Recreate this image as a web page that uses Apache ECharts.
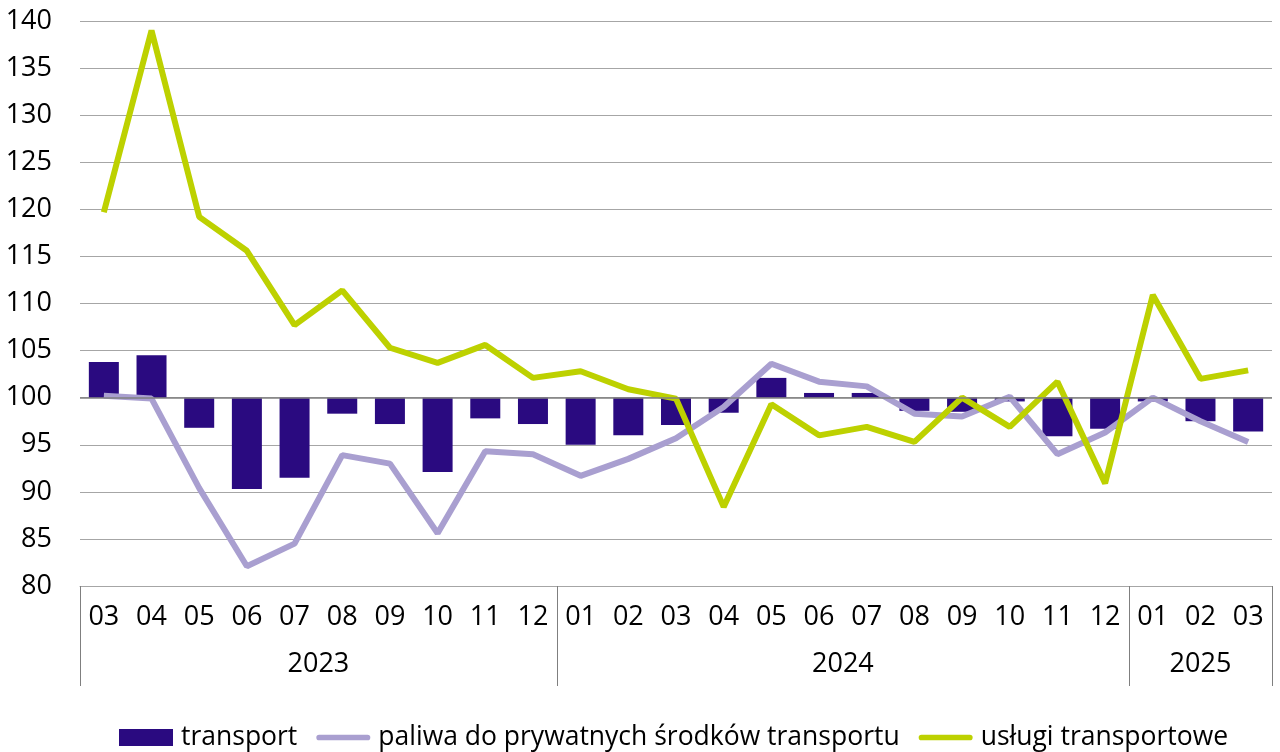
<!DOCTYPE html>
<html><head><meta charset="utf-8">
<script src="https://cdn.jsdelivr.net/npm/echarts@6/dist/echarts.min.js"></script>
<style>html,body{margin:0;padding:0;background:#fff}#c{width:1280px;height:752px}</style>
</head><body><div id="c"></div>
<script>
const months = ['03','04','05','06','07','08','09','10','11','12','01','02','03','04','05','06','07','08','09','10','11','12','01','02','03'];
const yearLabels = ['2023','2024','2025'];
const yearSpans = [10,12,3];
const transport = [103.8,104.5,96.8,90.3,91.5,98.3,97.2,92.1,97.8,97.2,95.0,96.0,97.1,98.4,102.1,100.5,100.5,98.6,98.5,99.6,95.9,96.7,99.6,97.5,96.4];
const paliwa = [100.2,99.9,90.4,82.1,84.5,93.9,93.0,85.6,94.3,94.0,91.7,93.5,95.7,99.0,103.6,101.7,101.2,98.3,98.0,100.1,94.0,96.3,100.0,97.5,95.3];
const uslugi = [119.7,139.0,119.2,115.6,107.7,111.4,105.3,103.7,105.6,102.1,102.8,100.9,99.9,88.4,99.3,96.0,96.9,95.3,100.0,96.9,101.7,90.9,110.9,102.0,102.9];
const baseValue = 100;
const seriesNames = ['transport','paliwa do prywatnych środków transportu','usługi transportowe'];

// year axis: half-month positions, labels at year centers, ticks at year boundaries
const n = months.length;
const yearAxisData = new Array(2*n+1).fill('');
const boundaryIdx = new Set([0, 2*n]);
let s = 0;
yearLabels.forEach((y,i)=>{
  yearAxisData[2*s + yearSpans[i]] = y;
  boundaryIdx.add(2*s);
  s += yearSpans[i];
  boundaryIdx.add(2*s);
});

const lineIcon = 'path://M0,0M57,17M3,5.5L54,5.5A3,3,0,0,1,54,11.5L3,11.5A3,3,0,0,1,3,5.5Z';
const FONT = "'Open Sans', 'Noto Sans', sans-serif";
const chart = echarts.init(document.getElementById('c'), null, {renderer:'canvas'});
chart.setOption({
  animation: false,
  backgroundColor: '#fff',
  textStyle: {fontFamily: FONT},
  grid: {left: 80, right: 8, top: 21, bottom: 166, containLabel: false},
  legend: {
    data: [
      {name: seriesNames[0], icon: 'rect'},
      {name: seriesNames[1], icon: lineIcon, itemStyle:{color:'#a99fd0', borderWidth:0}},
      {name: seriesNames[2], icon: lineIcon, itemStyle:{color:'#bdd100', borderWidth:0}}
    ],
    top: 719, left: 114,
    itemWidth: 54, itemHeight: 17, itemGap: 19,
    textStyle: {fontFamily: FONT, fontSize: 26.5, color: '#000', padding:[0,0,0,3]}
  },
  xAxis: [
    {type:'category', data: months, boundaryGap: true,
     axisLine:{show:true, lineStyle:{color:'#a6a6a6', width:1}},
     axisTick:{show:false},
     axisLabel:{interval:0, fontFamily:FONT, fontSize:27, color:'#000', margin:18}},
    {type:'category', data: yearAxisData, boundaryGap: false, position:'bottom',
     axisLine:{show:false},
     axisTick:{show:true, length:100, interval:(i)=>boundaryIdx.has(i), lineStyle:{color:'#7f7f7f', width:1}},
     axisLabel:{interval:0, fontFamily:FONT, fontSize:27, color:'#000', margin:65}}
  ],
  yAxis: {
    type:'value', min:80, max:140, interval:5,
    axisLine:{show:false}, axisTick:{show:false},
    splitLine:{lineStyle:{color:'#a6a6a6', width:1}},
    axisLabel:{fontFamily:FONT, fontSize:27, color:'#000', margin:28}
  },
  series: [
    {name:'base', type:'bar', stack:'tr', stackStrategy:'all', data: transport.map(()=>baseValue),
     itemStyle:{color:'rgba(0,0,0,0)'}, barWidth:30, silent:true},
    {name:seriesNames[0], type:'bar', stack:'tr', stackStrategy:'all', data: transport.map(v=>+(v-baseValue).toFixed(2)),
     itemStyle:{color:'#2a0a80'}, barWidth:30,
     markLine:{silent:true, symbol:'none', label:{show:false}, lineStyle:{color:'#7f7f7f', width:1.5, type:'solid'}, data:[{yAxis:baseValue}]}},
    {name:seriesNames[1], type:'line', data: paliwa, symbol:'none', lineStyle:{color:'#a99fd0', width:6}, itemStyle:{color:'#a99fd0'}},
    {name:seriesNames[2], type:'line', data: uslugi, symbol:'none', lineStyle:{color:'#bdd100', width:6}, itemStyle:{color:'#bdd100'}}
  ]
});
</script>
</body></html>
